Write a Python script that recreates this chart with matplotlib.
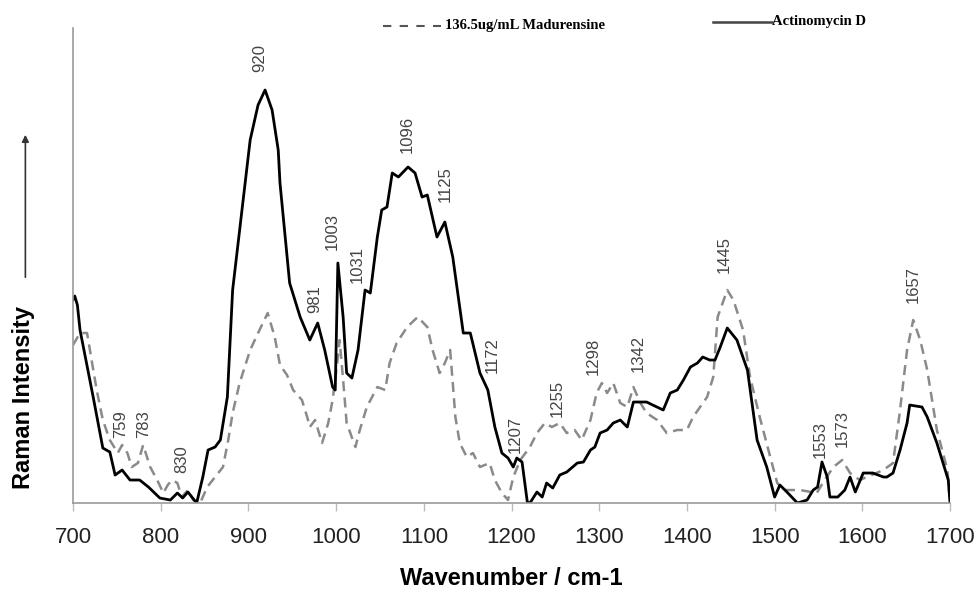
import numpy as np
import matplotlib.pyplot as plt

# Actinomycin D (solid) - wavenumber / relative intensity
act_wn = [700, 702, 705, 708, 723, 734, 742, 748, 756, 765, 776, 786, 799, 811, 819, 825, 831, 841,
          848, 854, 862, 868, 876, 882, 890, 902, 911, 919, 927, 934, 936, 947, 959, 970, 979, 987,
          996, 999, 1002, 1008, 1012, 1018, 1025, 1033, 1039, 1047, 1052, 1058, 1064, 1071, 1082,
          1090, 1098, 1104, 1115, 1124, 1133, 1145, 1153, 1164, 1173, 1181, 1189, 1196, 1202, 1206,
          1212, 1218, 1221, 1229, 1235, 1240, 1247, 1255, 1263, 1275, 1282, 1290, 1295, 1301, 1309,
          1316, 1324, 1332, 1339, 1354, 1361, 1373, 1381, 1389, 1396, 1404, 1412, 1418, 1426, 1432,
          1438, 1446, 1457, 1469, 1480, 1491, 1500, 1506, 1514, 1526, 1537, 1544, 1549, 1554, 1560,
          1563, 1572, 1580, 1586, 1592, 1601, 1612, 1624, 1628, 1635, 1643, 1651, 1654, 1668, 1674,
          1685, 1692, 1698, 1700]
act_int = [203, 207, 198, 173, 106, 55, 51, 28, 33, 23, 23, 16, 5, 3, 10, 5, 11, 0,
           26, 53, 56, 63, 106, 213, 273, 363, 398, 413, 393, 353, 320, 220, 186, 163, 180, 153,
           116, 113, 240, 186, 130, 125, 153, 213, 210, 266, 293, 296, 330, 326, 336,
           330, 306, 308, 266, 281, 246, 170, 170, 130, 113, 76, 50, 45, 36, 45,
           41, 1, 0, 11, 6, 20, 15, 28, 31, 40, 41, 53, 56, 70, 73,
           80, 83, 76, 101, 101, 98, 93, 110, 113, 123, 136, 140, 146, 143, 143,
           156, 175, 163, 133, 63, 36, 6, 18, 11, 0, 3, 13, 16, 41, 26,
           6, 6, 13, 26, 11, 30, 30, 26, 26, 30, 53, 80, 98, 96, 86,
           60, 40, 23, 0]

# 136.5ug/mL Madurensine (dashed)
mad_wn = [700, 708, 716, 727, 734, 742, 751, 756, 762, 767, 774, 780, 788, 796, 803, 808, 813, 819,
          824, 831, 837, 845, 853, 862, 871, 877, 882, 890, 902, 911, 922, 930, 936, 944, 951, 961,
          967, 970, 976, 984, 991, 996, 1001, 1004, 1008, 1012, 1022, 1027, 1035, 1047, 1056, 1061,
          1069, 1081, 1093, 1104, 1110, 1118, 1124, 1130, 1133, 1136, 1141, 1149, 1156, 1164, 1175,
          1181, 1189, 1196, 1202, 1210, 1221, 1229, 1238, 1246, 1255, 1263, 1272, 1280, 1290, 1297,
          1303, 1309, 1316, 1324, 1332, 1339, 1347, 1354, 1366, 1377, 1389, 1400, 1407, 1423, 1430,
          1435, 1446, 1453, 1464, 1472, 1483, 1495, 1503, 1510, 1529, 1548, 1557, 1567, 1577, 1586,
          1597, 1624, 1635, 1643, 1651, 1658, 1666, 1674, 1685, 1697, 1700]
mad_int = [158, 170, 170, 113, 83, 63, 50, 58, 50, 36, 40, 58, 36, 23, 10, 18, 23, 20,
           6, 13, 3, 0, 16, 26, 36, 63, 90, 120, 153, 170, 190, 166, 138, 128, 113, 103,
           86, 76, 83, 60, 80, 103, 138, 163, 123, 80, 56, 73, 96, 116, 113, 140,
           160, 176, 186, 176, 153, 130, 140, 153, 120, 86, 60, 46, 50, 36, 40,
           23, 10, 3, 26, 43, 56, 70, 80, 76, 80, 70, 73, 63, 83, 110,
           120, 110, 120, 100, 96, 116, 100, 90, 83, 70, 73, 73, 86, 106, 126,
           186, 213, 203, 173, 126, 86, 46, 20, 13, 13, 10, 23, 36, 43, 30,
           23, 33, 40, 93, 153, 183, 163, 133, 73, 33, 0]

# peak labels: text, wavenumber, height of label base
peak_txt = ['759', '783', '830', '920', '981', '1003', '1031', '1096', '1125', '1172', '1207',
            '1255', '1298', '1342', '1445', '1553', '1573', '1657']
peak_x = [754, 780, 824, 913, 976, 996, 1024, 1081, 1124, 1178, 1204,
          1252, 1293, 1344, 1443, 1552, 1577, 1658]
peak_y = [65, 65, 30, 431, 190, 253, 220, 350, 301, 130, 50,
          86, 128, 131, 230, 45, 56, 200]

fig = plt.figure(figsize=(9.76, 5.92), dpi=100)
ax = fig.add_axes([0.0748, 0.1503, 0.8986, 0.8024])

ax.plot(mad_wn, mad_int, color='#8a8a8a', lw=1.8, dashes=(4, 2.5))
ax.plot(act_wn, act_int, color='black', lw=2.0)

for t, x, y in zip(peak_txt, peak_x, peak_y):
    ax.text(x, y, t, rotation=90, ha='center', va='bottom', fontsize=12,
            family='Liberation Sans', color='#444444')

ax.set_xlim(700, 1700)
ax.set_ylim(0, 475)
ax.set_xticks(np.arange(700, 1701, 100))
ax.set_yticks([])
for s in ['top', 'right']:
    ax.spines[s].set_visible(False)
for s in ['left', 'bottom']:
    ax.spines[s].set_color('#9a9a9a')
    ax.spines[s].set_linewidth(1.2)
ax.tick_params(axis='x', direction='out', length=6, width=1, color='#bbbbbb',
               labelsize=16, labelcolor='#222222', pad=11)
for lab in ax.get_xticklabels():
    lab.set_family('Liberation Sans')

ax.set_xlabel('Wavenumber / cm-1', fontsize=17, fontweight='bold', family='Liberation Sans',
              labelpad=14)

# y label with arrow
fig.text(0.024, 0.329, 'Raman Intensity', rotation=90, ha='center', va='center',
         fontsize=17, fontweight='bold', family='Liberation Sans')
fig.patches.append(plt.matplotlib.patches.FancyArrowPatch(
    (0.026, 1 - 280 / 592), (0.026, 1 - 132 / 592), transform=fig.transFigure,
    arrowstyle='-|>', mutation_scale=10, color='#333333', lw=1.2))

# legend drawn as loose text, like the original
fig.lines.append(plt.Line2D([383 / 976, 441 / 976], [1 - 26 / 592] * 2, transform=fig.transFigure,
                            color='#555555', lw=1.5, dashes=(4, 4)))
fig.text(445 / 976, 1 - 26 / 592, '136.5ug/mL Madurensine', ha='left', va='center',
         fontsize=10.5, fontweight='bold', family='Liberation Serif')
fig.lines.append(plt.Line2D([713 / 976, 772 / 976], [1 - 22 / 592] * 2, transform=fig.transFigure,
                            color='#444444', lw=1.8))
fig.text(772 / 976, 1 - 22 / 592, 'Actinomycin D', ha='left', va='center',
         fontsize=10.5, fontweight='bold', family='Liberation Serif')

fig.savefig('out.png', dpi=100)
